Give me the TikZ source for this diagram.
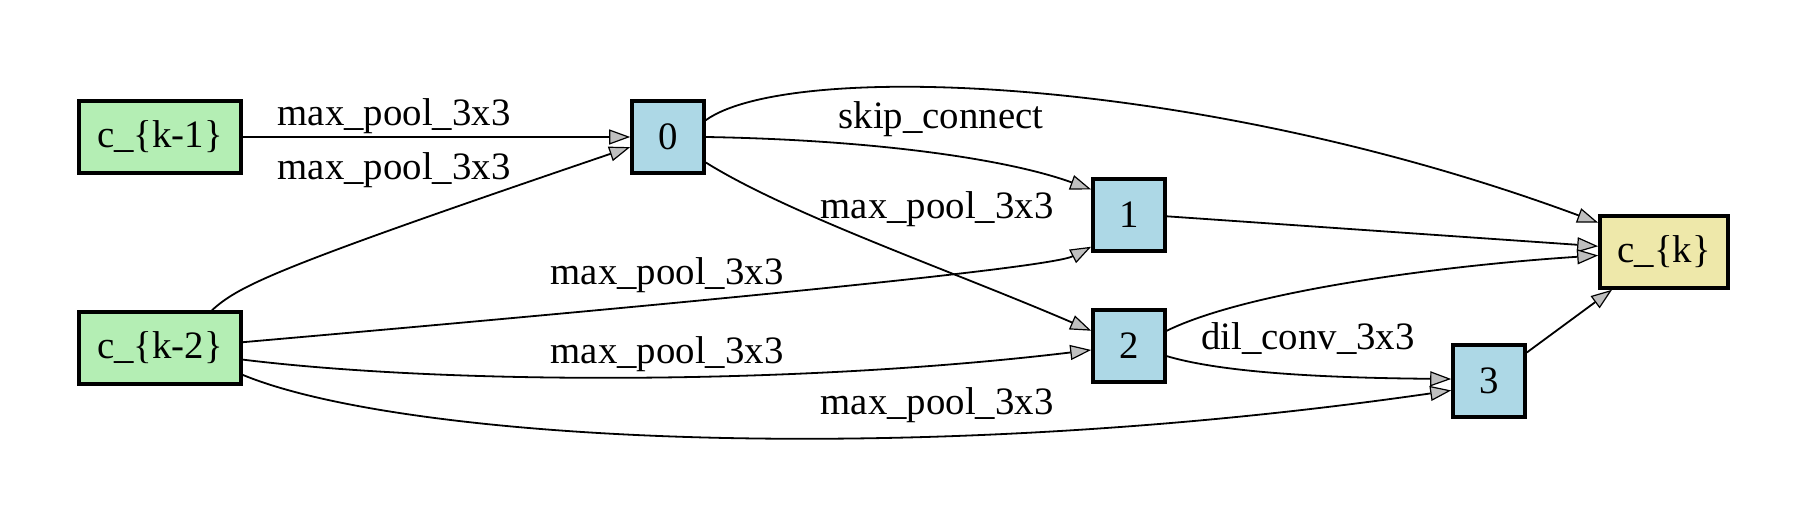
\documentclass[tikz,border=0pt]{standalone}
\usepackage{fontspec}
\setmainfont{Liberation Serif}
\usetikzlibrary{arrows.meta}
\definecolor{inputgreen}{HTML}{B4EEB4}
\definecolor{opblue}{HTML}{ADD8E6}
\definecolor{outyellow}{HTML}{EEE8AA}
\tikzset{
	cell/.style={draw, line width=1.8pt, minimum height=36pt, inner sep=0pt,
			font=\fontsize{19.4}{23}\selectfont},
	op/.style={cell, fill=opblue, minimum width=36pt},
	inp/.style={cell, fill=inputgreen, minimum width=81pt},
	outp/.style={cell, fill=outyellow, minimum width=64pt},
	lbl/.style={font=\fontsize{19.4}{23}\selectfont, inner sep=0pt},
	edge/.style={line width=0.9pt,
			-{Triangle[length=10.5pt, width=7.5pt, fill=gray!50, line width=0.6pt]}}
}

\begin{document}
\begin{tikzpicture}[x=0.5pt, y=-0.5pt]
		\useasboundingbox (0, 0) rectangle (1810, 522);

		\node[inp]	(k1) at (160, 137)	{c\_\{k-1\}};
		\node[inp]	(k2) at (160, 348)	{c\_\{k-2\}};
		\node[op]	(n0) at (668, 137)	{0};
		\node[op]	(n1) at (1129, 215)	{1};
		\node[op]	(n2) at (1129, 346)	{2};
		\node[op]	(n3) at (1489, 381)	{3};
		\node[outp]	(k) at (1664, 252)	{c\_\{k\}};

		\node[lbl]	(l1) at (394, 116)	{max\_pool\_3x3};
		\node[lbl]	(l2) at (394, 170)	{max\_pool\_3x3};
		\node[lbl]	(l3) at (941, 119)	{skip\_connect};
		\node[lbl]	(l4) at (937, 209)	{max\_pool\_3x3};
		\node[lbl]	(l6) at (667, 275)	{max\_pool\_3x3};
		\node[lbl]	(l7) at (667, 354)	{max\_pool\_3x3};
		\node[lbl]	(l8) at (937, 405)	{max\_pool\_3x3};
		\node[lbl]	(l11) at (1308, 339)	{dil\_conv\_3x3};

		\draw[edge]	(k1) -- (n0);
		\draw[edge]	(k2.36) .. controls (240, 285) and (275, 268) .. (n0.-165);
		\draw[edge]	(n0.0) .. controls (880, 140) and (1010, 160) .. (n1.146);
		\draw[edge]	(n0.-34) .. controls (790, 215) and (950, 270) .. (n2.158);
		\draw[edge]	(n0.24) .. controls (790, 60) and (1200, 75) .. (k.156);
		\draw[edge]	(k2.4) .. controls (700, 302) and (1050, 268) .. (n1.220);
		\draw[edge]	(k2.-8) .. controls (450, 385) and (800, 385) .. (n2.186);
		\draw[edge]	(k2.-18) .. controls (400, 440) and (900, 470) .. (n3.194);
		\draw[edge]	(n1.-2) -- (k.175);
		\draw[edge]	(n2.22) .. controls (1250, 290) and (1450, 265) .. (k.183);
		\draw[edge]	(n2.-15) .. controls (1230, 375) and (1350, 378) .. (n3.177);
		\draw[edge]	(n3.37) -- (k.216);
	\end{tikzpicture}
\end{document}
